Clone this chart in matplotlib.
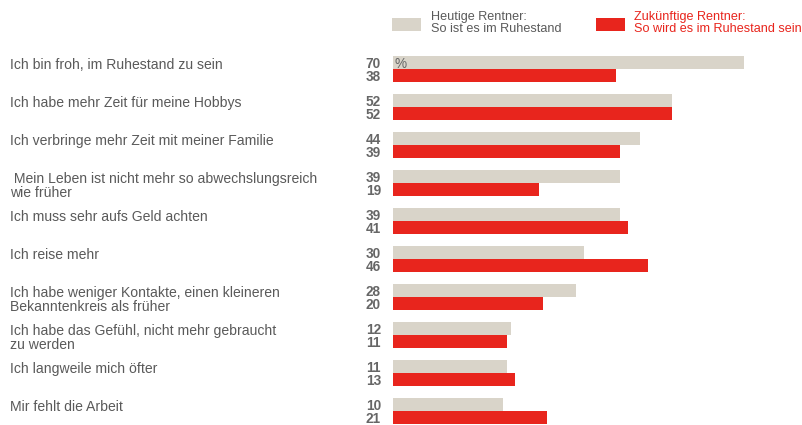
import matplotlib
matplotlib.use("Agg")
import matplotlib.pyplot as plt
import matplotlib.transforms as mtransforms
from matplotlib.patches import Rectangle

categories = [
    "Ich bin froh, im Ruhestand zu sein",
    "Ich habe mehr Zeit für meine Hobbys",
    "Ich verbringe mehr Zeit mit meiner Familie",
    " Mein Leben ist nicht mehr so abwechslungsreich\nwie früher",
    "Ich muss sehr aufs Geld achten",
    "Ich reise mehr",
    "Ich habe weniger Kontakte, einen kleineren\nBekanntenkreis als früher",
    "Ich habe das Gefühl, nicht mehr gebraucht\nzu werden",
    "Ich langweile mich öfter",
    "Mir fehlt die Arbeit",
]
heutige = [70, 52, 44, 39, 39, 30, 28, 12, 11, 10]
zukuenftige = [38, 52, 39, 19, 41, 46, 20, 11, 13, 21]
series_names = ["Heutige Rentner:\nSo ist es im Ruhestand",
                "Zukünftige Rentner:\nSo wird es im Ruhestand sein"]

GRAY = "#d9d4c9"
RED = "#e8251d"
TXT = "#5a5a5a"
VAL = "#666666"

plt.rcParams['font.family'] = ['Liberation Sans', 'DejaVu Sans']

W, H = 803, 425
fig = plt.figure(figsize=(W / 100, H / 100), dpi=100)

x0_px = 393
px_per_unit = 4.02
xmin = -17.4
xmax = xmin + (W - x0_px) / px_per_unit
pitch = 38.0
bh = 13 / pitch
ytop = -69 / pitch
ybot = (H - 69) / pitch

ax = fig.add_axes([x0_px / W, 0, (W - x0_px) / W, 1])
ax.set_xlim(xmin, xmax)
ax.set_ylim(ybot, ytop)
ax.axis("off")

ys = list(range(len(categories)))
ax.barh([y - bh / 2 for y in ys], [v - xmin for v in heutige], left=xmin,
        height=bh, color=GRAY, linewidth=0)
ax.barh([y + bh / 2 for y in ys], [v - xmin for v in zukuenftige], left=xmin,
        height=bh, color=RED, linewidth=0)

trans_lab = mtransforms.blended_transform_factory(fig.transFigure, ax.transData)
fs = 10.1
vfs = 9.8
for y, cat, h, z in zip(ys, categories, heutige, zukuenftige):
    ax.text(10 / W, y - bh + 0.05, cat, transform=trans_lab, ha="left", va="top",
            fontsize=fs, color=TXT, linespacing=0.98)
    ax.text(381 / W, y - bh / 2 + 0.05, str(h), transform=trans_lab, ha="right",
            va="center", fontsize=vfs, color=VAL, fontweight="bold")
    ax.text(381 / W, y + bh / 2 + 0.05, str(z), transform=trans_lab, ha="right",
            va="center", fontsize=vfs, color=VAL, fontweight="bold")

ax.text(xmin + 0.3, 0 - bh / 2 + 0.05, "%", ha="left", va="center", fontsize=vfs,
        color=VAL)

# legend
for px, col in [(392, GRAY), (596, RED)]:
    fig.patches.append(Rectangle((px / W, 1 - 31 / H), 29 / W, 13 / H,
                                 transform=fig.transFigure, color=col, lw=0))
lfs = 9.1
for tx, c, name in [(431, TXT, series_names[0]), (634, RED, series_names[1])]:
    fig.text(tx / W, 1 - 11 / H, name, ha="left", va="top", fontsize=lfs,
             color=c, linespacing=0.95)

fig.savefig("out.png", dpi=100)
